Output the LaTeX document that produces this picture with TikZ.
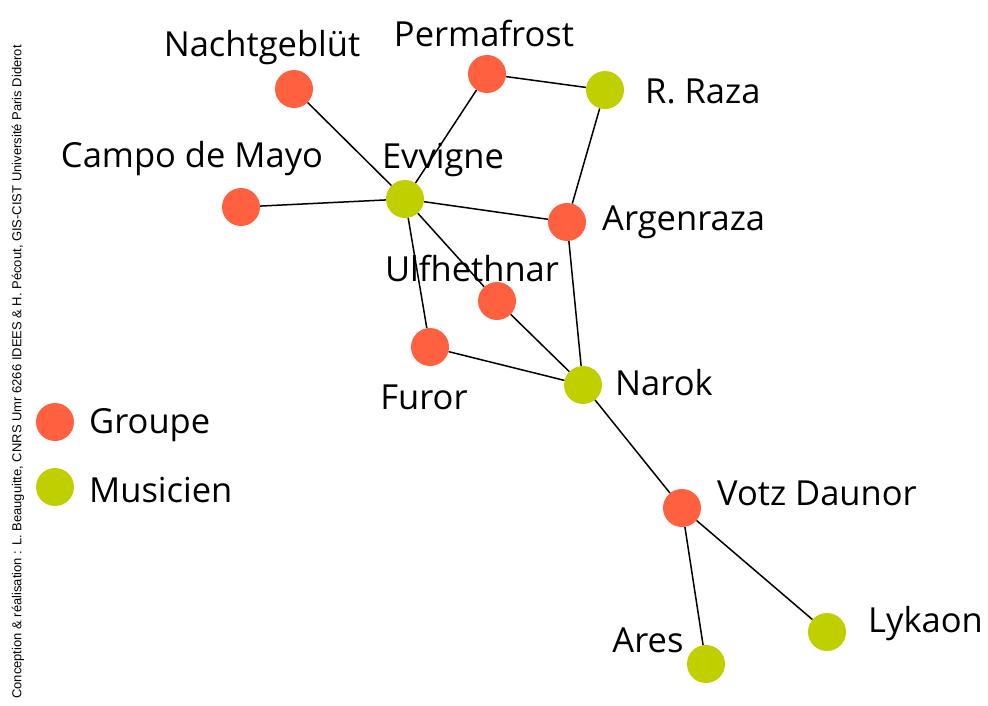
\documentclass[tikz,border=0pt]{standalone}
\usepackage{fontspec}
\setmainfont{Open Sans}
\newfontfamily\credfont{Liberation Sans}
\definecolor{grp}{HTML}{FF6040}
\definecolor{mus}{HTML}{BFCF00}
\begin{document}
\begin{tikzpicture}[x=1pt,y=-1pt,
  g/.style={circle,fill=grp,minimum size=38pt,inner sep=0pt},
  m/.style={circle,fill=mus,minimum size=38pt,inner sep=0pt},
  lab/.style={font=\fontsize{34.5}{34.5}\selectfont,inner sep=0pt,yshift=-3pt},
  edge/.style={line width=1.5pt,black}]
\useasboundingbox (0,0) rectangle (988,705);
% nodes
\node[g] (nacht) at (294,89) {};
\node[g] (perma) at (487,74) {};
\node[m] (raza) at (605,90) {};
\node[g] (campo) at (241,207) {};
\node[m] (evv) at (405,199) {};
\node[g] (argen) at (567,222) {};
\node[g] (ulf) at (497,301) {};
\node[g] (furor) at (430,347) {};
\node[m] (narok) at (583,385) {};
\node[g] (votz) at (682,508) {};
\node[m] (ares) at (706,664) {};
\node[m] (lyk) at (827,632) {};
% edges
\draw[edge] (nacht) -- (evv);
\draw[edge] (perma) -- (evv);
\draw[edge] (perma) -- (raza);
\draw[edge] (raza) -- (argen);
\draw[edge] (campo) -- (evv);
\draw[edge] (evv) -- (argen);
\draw[edge] (evv) -- (furor);
\draw[edge] (evv) -- (ulf);
\draw[edge] (ulf) -- (narok);
\draw[edge] (argen) -- (narok);
\draw[edge] (furor) -- (narok);
\draw[edge] (narok) -- (votz);
\draw[edge] (votz) -- (ares);
\draw[edge] (votz) -- (lyk);
% labels
\node[lab] (lnacht) at (262,45) {Nachtgeblüt};
\node[lab] (lperma) at (484,30) {Permafrost};
\node[lab,anchor=west] (lraza) at (645,88) {R. Raza};
\node[lab] (lcampo) at (192,156) {Campo de Mayo};
\node[lab] (levv) at (443,157) {Evvigne};
\node[lab,anchor=west] (largen) at (602,219) {Argenraza};
\node[lab] (lulf) at (472,265) {Ulfhethnar};
\node[lab] (lfuror) at (424,394) {Furor};
\node[lab,anchor=west] (lnarok) at (615,380) {Narok};
\node[lab,anchor=west] (lvotz) at (717,490) {Votz Daunor};
\node[lab] (lares) at (648,637) {Ares};
\node[lab,anchor=west] (llyk) at (868,621) {Lykaon};
% legend
\node[g] (leg1) at (55,422) {};
\node[lab,anchor=west] (leg1t) at (89,422) {Groupe};
\node[m] (leg2) at (55,487) {};
\node[lab,anchor=west] (leg2t) at (89,487) {Musicien};
% credit
\node[font=\credfont\fontsize{13}{13}\selectfont,rotate=90,inner sep=0pt] (cred) at (18,372) {Conception \& réalisation : L. Beauguitte, CNRS Umr 6266 IDEES \& H. Pécout, GIS-CIST Université Paris Diderot};
\end{tikzpicture}
\end{document}
